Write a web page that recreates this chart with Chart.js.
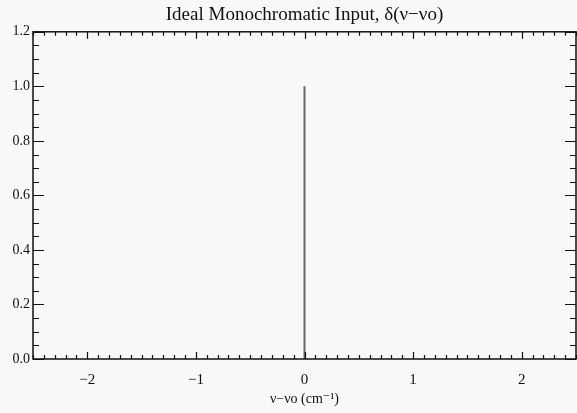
<!DOCTYPE html>
<html>
<head>
<meta charset="utf-8">
<script src="https://cdn.jsdelivr.net/npm/chart.js@4/dist/chart.umd.min.js"></script>
<style>
  html, body { margin: 0; padding: 0; background: #f8f8f8; }
  #wrap { width: 577px; height: 413px; }
</style>
</head>
<body>
<div id="wrap"><canvas id="c"></canvas></div>
<script>
/* Ideal monochromatic input: a single delta spike at nu - nu0 = 0 */
const spikeX = [0, 0];
const spikeY = [0, 1.0];
const xMajor = [-2, -1, 0, 1, 2];
const yMajor = [0, 0.2, 0.4, 0.6, 0.8, 1.0, 1.2];
const xMinorStep = 0.1;
const yMinorStep = 0.05;

const SERIF = "'Liberation Serif', 'DejaVu Serif', serif";

// IDL-style frame with inward ticks on all four sides
const frame = {
  id: "frame",
  afterDraw(chart) {
    const { ctx, chartArea: a, scales: { x, y } } = chart;
    ctx.save();
    ctx.strokeStyle = "#111";
    ctx.lineWidth = 1.5;
    ctx.strokeRect(a.left, a.top, a.right - a.left, a.bottom - a.top);
    ctx.lineWidth = 1.2;
    ctx.beginPath();
    for (let v = x.min; v <= x.max + 1e-9; v += xMinorStep) {
      const r = Math.round(v * 10) / 10;
      const major = Math.abs(r - Math.round(r)) < 1e-6;
      const px = Math.round(x.getPixelForValue(r)) + 0.5;
      const len = major ? 7 : 4;
      ctx.moveTo(px, a.bottom); ctx.lineTo(px, a.bottom - len);
      ctx.moveTo(px, a.top); ctx.lineTo(px, a.top + len);
    }
    for (let v = y.min; v <= y.max + 1e-9; v += yMinorStep) {
      const r = Math.round(v * 100) / 100;
      const major = Math.abs(r * 5 - Math.round(r * 5)) < 1e-6;
      const py = Math.round(y.getPixelForValue(r)) + 0.5;
      const len = major ? 11 : 6;
      ctx.moveTo(a.left, py); ctx.lineTo(a.left + len, py);
      ctx.moveTo(a.right, py); ctx.lineTo(a.right - len, py);
    }
    ctx.stroke();
    ctx.restore();
  }
};

new Chart(document.getElementById("c"), {
  type: "line",
  data: {
    datasets: [{
      data: spikeX.map((v, i) => ({ x: v, y: spikeY[i] })),
      borderColor: "#666",
      borderWidth: 2,
      pointRadius: 0,
      tension: 0,
    }]
  },
  options: {
    responsive: true, maintainAspectRatio: false, animation: false,
    layout: { padding: { left: 0, right: 1, top: 0, bottom: 0 } },
    plugins: {
      legend: { display: false },
      tooltip: { enabled: false },
      title: {
        display: true, fullSize: false,
        text: "Ideal Monochromatic Input, δ(ν−νo)",
        color: "#111", font: { family: SERIF, size: 19, weight: "normal" },
        padding: { top: 4, bottom: 5 },
      },
    },
    scales: {
      x: {
        type: "linear", min: -2.5, max: 2.5,
        afterBuildTicks: s => { s.ticks = xMajor.map(v => ({ value: v })); },
        afterFit: s => { s.height = 54; },
        grid: { display: false, drawTicks: false },
        border: { display: false },
        ticks: { color: "#111", font: { family: SERIF, size: 15 }, padding: 12, maxRotation: 0,
                 callback: v => String(v).replace("-", "−") },
        title: { display: true, text: "ν−νo (cm⁻¹)", color: "#111",
                 font: { family: SERIF, size: 14 }, padding: { top: 2, bottom: 5 } },
      },
      y: {
        min: 0, max: 1.2,
        afterBuildTicks: s => { s.ticks = yMajor.map(v => ({ value: v })); },
        afterFit: s => { s.width = 33; },
        grid: { display: false, drawTicks: false },
        border: { display: false },
        ticks: { color: "#111", font: { family: SERIF, size: 14 }, padding: 3,
                 callback: v => v.toFixed(1) },
      },
    },
  },
  plugins: [frame],
});
</script>
</body>
</html>
